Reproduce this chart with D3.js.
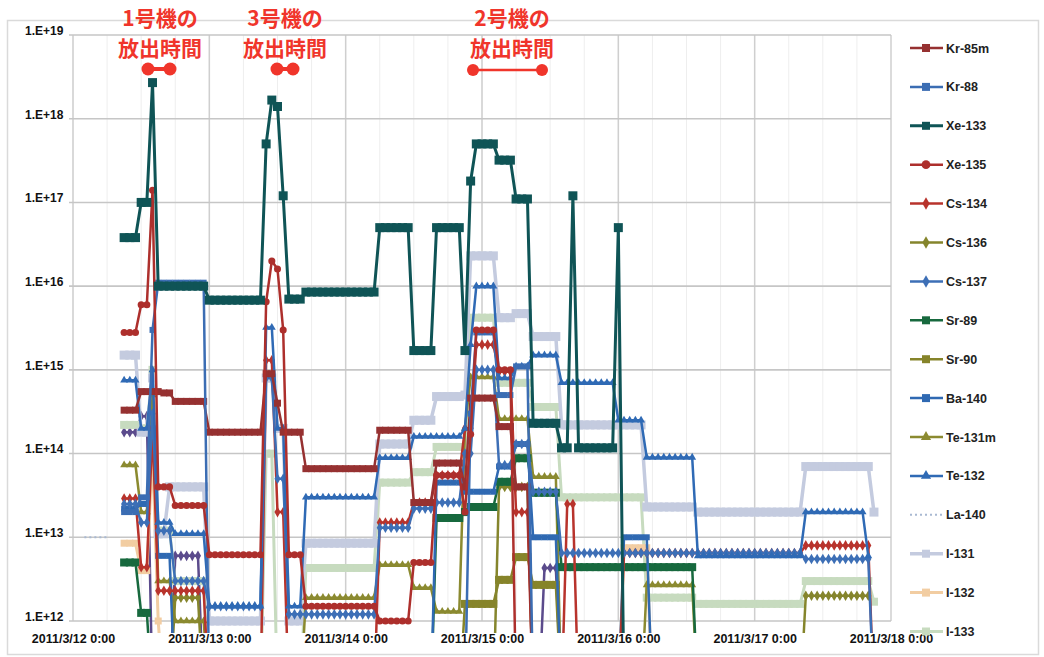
<!DOCTYPE html>
<html><head><meta charset="utf-8">
<script src="https://cdn.jsdelivr.net/npm/d3@7"></script>
<style>body{margin:0;background:#fff}svg{display:block}text{font-family:"Liberation Sans",Arial,sans-serif}</style>
</head><body><svg id="c" width="1044" height="657"></svg>
<script>
// runs: [startHour, endHour, value], hours from 2011/3/12 0:00 ; value 0 = below axis
const names = ["Kr-85m","Kr-88","Xe-133","Xe-135","Cs-134","Cs-136","Cs-137","Sr-89","Sr-90","Ba-140","Te-131m","Te-132","La-140","I-131","I-132","I-133"];
const yTicks = [1e12,1e13,1e14,1e15,1e16,1e17,1e18,1e19];
const yTickLabels = ["1.E+12","1.E+13","1.E+14","1.E+15","1.E+16","1.E+17","1.E+18","1.E+19"];
const xTickLabels = ["2011/3/12 0:00","2011/3/13 0:00","2011/3/14 0:00","2011/3/15 0:00","2011/3/16 0:00","2011/3/17 0:00","2011/3/18 0:00"];

const kr85m = [[9,11,3.3e14],[12,15,5.5e14],[16,17,5.3e14],[18,23,4.2e14],[24,33,1.8e14],[34,35,9e14],[36,36,4e14],[37,40,1.8e14],[41,53,6.6e13],[54,59,1.9e14],[60,63,2.6e13],[64,68,7.7e13],[69,69,4e13],[70,74,4.6e14],[75,77,2.1e14],[78,80,4e13],[81,81,0]];
const kr88 = [[9,11,2e13],[12,13,3e13],[14,14,3e15],[15,23,1.1e16],[24,24,0],[69,69,0],[70,70,3e14],[71,74,2.8e15],[75,77,5e14],[78,80,1.1e15],[81,81,0]];
const xe133 = [[9,11,3.8e16],[12,13,1e17],[14,14,2.7e18],[15,23,1e16],[24,33,6.8e15],[34,34,5e17],[35,35,1.67e18],[36,36,1.4e18],[37,37,1.2e17],[38,40,7e15],[41,53,8.5e15],[54,59,5e16],[60,63,1.7e15],[64,68,5e16],[69,69,1.7e15],[70,70,1.8e17],[71,74,5e17],[75,77,3.2e17],[78,80,1.1e17],[81,85,2.3e14],[86,87,1.17e14],[88,88,1.2e17],[89,95,1.17e14],[96,96,5e16],[97,97,0]];
const xe135 = [[9,11,2.8e15],[12,13,6e15],[14,14,1.4e17],[15,17,4e13],[18,23,2.4e13],[24,33,6.2e12],[34,34,6.5e15],[35,35,2e16],[36,36,1.6e16],[37,37,3e15],[38,40,6.2e12],[41,53,1.5e12],[54,59,1e12],[60,63,5e12],[64,68,5.5e13],[69,69,2e13],[70,70,1.7e14],[71,74,3e15],[75,77,1e15],[78,78,0]];
const cs134 = [[9,11,2.9e13],[12,13,4.4e12],[14,14,2e14],[15,23,2.3e12],[24,33,0],[34,35,1.3e15],[36,37,2e13],[38,53,0],[54,59,1.5e13],[60,63,2.6e13],[64,68,5.5e13],[69,70,2e14],[71,74,2e15],[75,77,9.5e14],[78,80,2e13],[81,86,0],[87,88,2.5e13],[89,96,0],[97,128,6.5e12],[129,140,8e12],[141,141,0]];
const cs136 = [[17,17,0],[18,22,1.9e12],[23,23,0],[74,74,0],[75,80,4e13],[81,81,0],[128,128,0],[129,140,2e12]];
const cs137 = [[9,11,2.5e13],[12,13,1.5e13],[14,14,3e14],[15,17,1.2e13],[18,23,3e12],[24,33,1.5e12],[34,35,8e14],[36,37,5e13],[38,53,1.2e12],[54,59,1.3e13],[60,63,2.2e13],[64,68,2.6e13],[69,70,1e14],[71,74,1e15],[75,77,7.3e13],[78,80,1.3e14],[81,85,3.5e13],[86,128,6.5e12],[129,140,5.5e12],[141,141,0]];
const sr89 = [[9,11,5e12],[12,13,1.25e12],[14,14,0],[63,63,0],[64,68,1.7e13],[69,69,2e13],[70,74,2.3e13],[75,77,4.6e13],[78,80,8.8e13],[81,85,3.4e13],[86,109,4.4e12],[110,110,0]];
const sr90 = [[68,68,0],[69,74,1.6e12],[75,77,3.1e12],[78,80,5.8e12],[81,85,2.7e12],[86,86,0]];
const ba140 = [[9,11,2.2e13],[12,13,2.5e13],[14,14,2e14],[15,17,6e12],[18,18,0],[63,63,0],[64,68,4.5e13],[69,74,3.5e13],[75,77,7e13],[78,80,1.3e14],[81,85,1e13],[86,86,0],[96,96,0],[97,101,1e13],[102,102,0]];
const te131m = [[9,11,7.3e13],[12,13,2e13],[14,14,5e14],[15,17,3e12],[18,23,1e12],[24,24,0],[40,40,0],[41,53,1.9e12],[54,59,4.7e12],[60,63,2.5e12],[64,68,1.3e12],[69,69,2e14],[70,74,8.2e14],[75,80,2.6e14],[81,85,5.3e13],[86,86,0],[100,100,0],[101,109,2.7e12],[110,110,0]];
const te132 = [[9,11,7.5e14],[12,13,2e14],[14,14,1e15],[15,17,1.5e13],[18,23,1.1e13],[24,33,1.5e12],[34,35,3.2e15],[36,37,2e14],[38,40,1.5e12],[41,53,3e13],[54,59,8.9e13],[60,68,1.6e14],[69,69,2e14],[70,70,2e15],[71,74,1e16],[75,77,8e14],[78,80,1.1e15],[81,85,1.5e15],[86,95,7e14],[96,100,2.5e14],[101,109,9e13],[110,128,6e12],[129,139,2e13],[140,140,6e12]];
const la140 = [[2,6,1e13],[24,32,7.1e15]];
const i131 = [[9,11,1.5e15],[12,13,1.8e14],[14,14,8e14],[15,16,1.1e13],[17,23,4e13],[24,33,1e12],[34,35,8e14],[36,37,2e14],[38,40,1e12],[41,53,8.5e12],[54,59,1.3e14],[60,63,2.5e14],[64,68,4.8e14],[69,69,5e14],[70,74,2.3e16],[75,77,4.2e15],[78,80,4.7e15],[81,85,2.5e15],[86,100,2.2e14],[101,109,2.3e13],[110,128,2e13],[129,140,7e13],[141,141,2e13]];
const i132 = [[9,11,8.5e12],[12,13,4e12],[14,14,1e14],[15,15,1e12],[16,16,0],[96,96,0],[97,101,7.5e12],[102,102,0]];
const i133 = [[9,11,2.2e14],[12,13,2e14],[14,14,1e15],[15,17,1.2e13],[18,23,3e12],[24,33,0],[34,35,1e14],[36,40,0],[41,53,4.3e12],[54,59,4.5e13],[60,63,6e13],[64,68,1.2e14],[69,69,1e14],[70,74,4.2e15],[75,80,7e14],[81,85,3.6e14],[86,100,3e13],[101,109,1.9e12],[110,128,1.6e12],[129,140,3e12],[141,141,1.7e12]];
const other = [[9,11,1.8e14],[12,13,2.8e14],[14,14,0],[17,17,0],[18,22,6e12],[23,23,0],[82,82,0],[83,85,4.3e12],[86,86,0]];

const styles = {
 "Kr-85m":{c:"#963131",m:"square",s:7,w:2.5},
 "Kr-88":{c:"#3b6db3",m:"square",s:6,w:2.5},
 "Xe-133":{c:"#0f5456",m:"square",s:9,w:3},
 "Xe-135":{c:"#ad2f2c",m:"circle",s:7,w:2.5},
 "Cs-134":{c:"#b8332c",m:"diamond",s:6,w:2.5},
 "Cs-136":{c:"#85852c",m:"diamond",s:6,w:2.5},
 "Cs-137":{c:"#3d6fb6",m:"diamond",s:6,w:2.5},
 "Sr-89":{c:"#17693e",m:"square",s:8,w:2.5},
 "Sr-90":{c:"#86842a",m:"square",s:8,w:2.5},
 "Ba-140":{c:"#2f69b2",m:"square",s:6,w:2.5},
 "Te-131m":{c:"#8b8a30",m:"triangle",s:7,w:2.5},
 "Te-132":{c:"#2f6ab5",m:"triangle",s:7,w:2.5},
 "La-140":{c:"#a9b9d2",m:"none",s:0,w:2,dash:"2,3"},
 "I-131":{c:"#c4cbdf",m:"square",s:9,w:3.5},
 "I-132":{c:"#f2cda2",m:"square",s:7,w:3},
 "I-133":{c:"#c7dbbf",m:"square",s:8,w:3},
 "other":{c:"#5b4b8c",m:"diamond",s:6,w:2.5}
};
const data = {"Kr-85m":kr85m,"Kr-88":kr88,"Xe-133":xe133,"Xe-135":xe135,"Cs-134":cs134,"Cs-136":cs136,"Cs-137":cs137,"Sr-89":sr89,"Sr-90":sr90,"Ba-140":ba140,"Te-131m":te131m,"Te-132":te132,"La-140":la140,"I-131":i131,"I-132":i132,"I-133":i133,"other":other};
const drawOrder = ["other","I-133","I-132","I-131","La-140","Te-131m","Sr-90","Cs-136","Sr-89","Ba-140","Cs-134","Cs-137","Te-132","Kr-85m","Kr-88","Xe-135","Xe-133"];

const svg = d3.select("#c");
const t0 = Date.UTC(2011,2,12);
const toDate = h => new Date(t0 + h*3600e3);
const x = d3.scaleUtc().domain([new Date(t0), new Date(Date.UTC(2011,2,18))]).range([73,891]);
const y = d3.scaleLog().domain([1e12,1e19]).range([621,35]);
const yv = v => v > 0 ? y(v) : 700;

svg.append("rect").attr("x",7.5).attr("y",20.5).attr("width",1031).attr("height",634)
  .attr("fill","none").attr("stroke","#dadada").attr("stroke-width",1.5);

const g = svg.append("g");
g.selectAll(".minor").data(d3.utcHour.every(6).range(x.domain()[0], x.domain()[1])).join("line")
  .attr("x1",d=>x(d)).attr("x2",d=>x(d)).attr("y1",35).attr("y2",621).attr("stroke","#eeeeee").attr("stroke-width",1);
g.selectAll(".major").data(d3.utcDay.range(x.domain()[0], new Date(Date.UTC(2011,2,18,1)))).join("line")
  .attr("x1",d=>x(d)).attr("x2",d=>x(d)).attr("y1",35).attr("y2",621).attr("stroke","#cfcfcf").attr("stroke-width",1.5);
g.selectAll(".h").data(yTicks).join("line")
  .attr("x1",69).attr("x2",891).attr("y1",d=>y(d)).attr("y2",d=>y(d)).attr("stroke","#c6c6c6").attr("stroke-width",1.6);

const yAxis = d3.axisLeft(y).tickValues(yTicks).tickFormat((d,i)=>yTickLabels[i]).tickSize(0).tickPadding(0);
const ya = svg.append("g").attr("transform","translate(25,0)").call(yAxis);
ya.select(".domain").remove();
ya.selectAll("text").attr("text-anchor","start").attr("dy","-0.05em").attr("font-size","12px").attr("font-weight","bold").attr("fill","#111").style("font-family","Liberation Sans, Arial");
const xDays = d3.utcDay.range(x.domain()[0], new Date(Date.UTC(2011,2,18,1)));
const xAxis = d3.axisBottom(x).tickValues(xDays).tickFormat((d,i)=>xTickLabels[i]).tickSize(0).tickPadding(0);
const xa = svg.append("g").attr("transform","translate(0,634)").call(xAxis);
xa.select(".domain").remove();
xa.selectAll("text").attr("font-size","12.5px").attr("font-weight","bold").attr("fill","#111").style("font-family","Liberation Sans, Arial");

svg.append("clipPath").attr("id","pc").append("rect").attr("x",70).attr("y",28).attr("width",824).attr("height",605);
const plot = svg.append("g").attr("clip-path","url(#pc)");

const symType = {square:d3.symbolSquare,circle:d3.symbolCircle,diamond:d3.symbolDiamond,triangle:d3.symbolTriangle};
function expand(runs){
  const segs=[]; let cur=[]; let prevEnd=null;
  runs.forEach(([a,b,v])=>{
    if(prevEnd!==null && a-prevEnd>1){ segs.push(cur); cur=[]; }
    for(let h=a;h<=b;h++) cur.push([h,v]);
    prevEnd=b;
  });
  if(cur.length) segs.push(cur);
  return segs;
}
const line = d3.line().x(d=>x(toDate(d[0]))).y(d=>yv(d[1]));
drawOrder.forEach(name=>{
  const st=styles[name]; const segs=expand(data[name]);
  const sg=plot.append("g");
  segs.forEach(seg=>{
    sg.append("path").attr("d",line(seg)).attr("fill","none").attr("stroke",st.c)
      .attr("stroke-width",st.w).attr("stroke-linejoin","round").attr("stroke-dasharray",st.dash||null);
    if(st.m!=="none"){
      const sym=d3.symbol().type(symType[st.m]).size(st.m==="circle"?st.s*st.s*0.8:(st.m==="triangle"?st.s*st.s*0.55:(st.m==="diamond"?st.s*st.s*0.9:st.s*st.s)));
      sg.selectAll(null).data(seg.filter(d=>d[1]>0)).join("path").attr("d",sym)
        .attr("transform",d=>`translate(${x(toDate(d[0]))},${yv(d[1])})`).attr("fill",st.c);
    }
  });
});

const lg = svg.append("g");
names.forEach((n,i)=>{
  const st=styles[n]; const ly=48+i*38.9;
  lg.append("line").attr("x1",910).attr("x2",943).attr("y1",ly).attr("y2",ly).attr("stroke",st.c).attr("stroke-width",st.w).attr("stroke-dasharray",st.dash||null);
  if(st.m!=="none"){
    const sym=d3.symbol().type(symType[st.m]).size(st.m==="circle"?60:(st.m==="triangle"?45:(st.m==="diamond"?45:64)));
    lg.append("path").attr("d",sym).attr("transform",`translate(926,${ly})`).attr("fill",st.c);
  }
  lg.append("text").attr("x",946).attr("y",ly+4.5).attr("font-size","12.5px").attr("font-weight","bold").attr("fill","#222").text(n);
});

const red="#f0352b";
const ann=[{l1:"1号機の",l2:"放出時間",cx:160,a:148,b:170,dy:69,w:4,r:6.5},
           {l1:"3号機の",l2:"放出時間",cx:285,a:277,b:293,dy:69,w:4,r:6.5},
           {l1:"2号機の",l2:"放出時間",cx:512,a:473,b:542,dy:70,w:2.5,r:6}];
ann.forEach(d=>{
  svg.append("text").attr("x",d.cx).attr("y",26).attr("text-anchor","middle").attr("fill",red).attr("font-size","21px").attr("font-weight","bold").style("font-family","Noto Sans CJK JP").text(d.l1);
  svg.append("text").attr("x",d.cx).attr("y",56).attr("text-anchor","middle").attr("fill",red).attr("font-size","21px").attr("font-weight","bold").style("font-family","Noto Sans CJK JP").text(d.l2);
  svg.append("line").attr("x1",d.a).attr("x2",d.b).attr("y1",d.dy).attr("y2",d.dy).attr("stroke",red).attr("stroke-width",d.w);
  [d.a,d.b].forEach(cx=>svg.append("circle").attr("cx",cx).attr("cy",d.dy).attr("r",d.r).attr("fill",red));
});
</script></body></html>
